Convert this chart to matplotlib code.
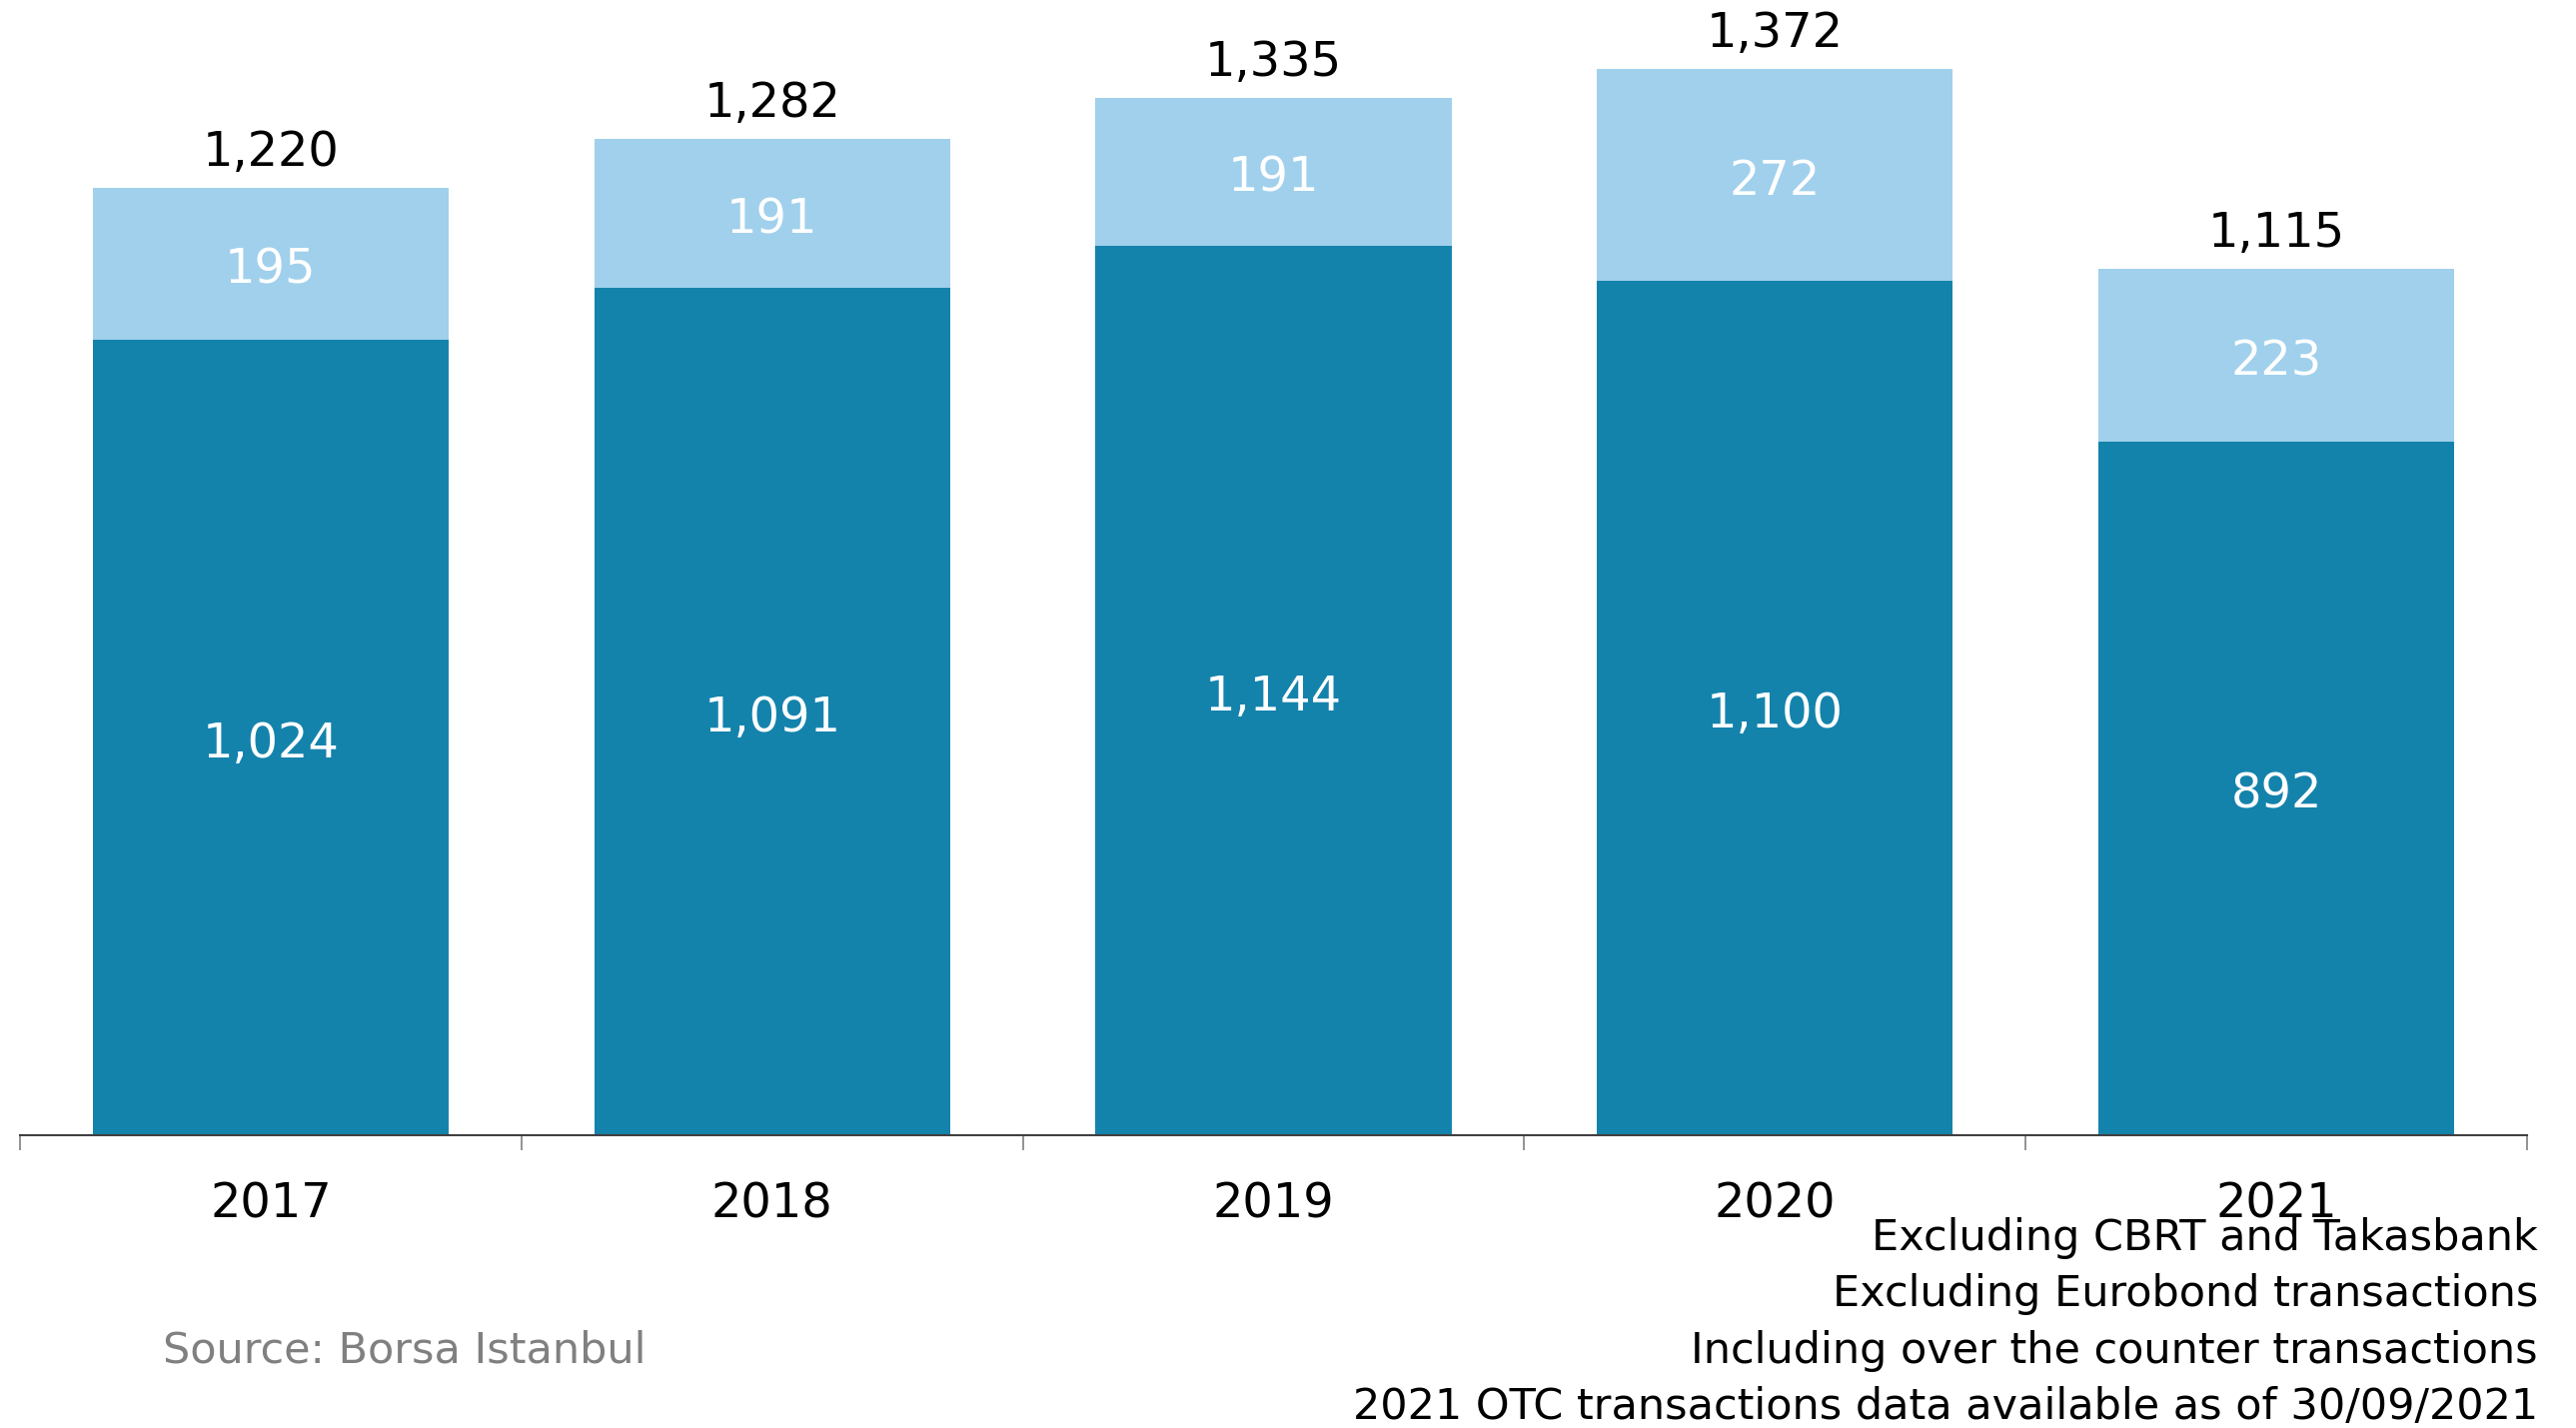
import numpy as np
import matplotlib.pyplot as plt

# Datos
years = ['2017', '2018', '2019', '2020', '2021']
base_vals = [1024, 1091, 1144, 1100, 892]
top_vals = [195, 191, 191, 272, 223]
totals = [1220, 1282, 1335, 1372, 1115]
notes = ['Excluding CBRT and Takasbank',
         'Excluding Eurobond transactions',
         'Including over the counter transactions',
         '2021 OTC transactions data available as of 30/09/2021']
source = 'Source: Borsa Istanbul'

dark = '#1483ac'
light = '#a0d0ec'

plt.rcParams['font.family'] = ['DejaVu Sans']

fig = plt.figure(figsize=(25.78, 14.29), dpi=100)
ax = fig.add_axes([20 / 2578, 1 - 1136 / 1429, 2509 / 2578, 1136 / 1429])

x = np.arange(len(years))
w = 0.71
ax.bar(x, base_vals, width=w, color=dark)
ax.bar(x, top_vals, width=w, bottom=base_vals, color=light)

# Etiquetas dentro de las barras
for xi, v in zip(x, base_vals):
    ax.annotate(f'{v:,}', (xi, v / 2), xytext=(0, -4.5), textcoords='offset points',
                ha='center', va='center', color='white', fontsize=34.5)
for xi, b, v in zip(x, base_vals, top_vals):
    ax.annotate(f'{v:,}', (xi, b + v / 2), xytext=(0, -4.5), textcoords='offset points',
                ha='center', va='center', color='white', fontsize=34.5)

# Totales encima
for xi, b, v, t in zip(x, base_vals, top_vals, totals):
    ax.annotate(f'{t:,}', (xi, b + v), xytext=(0, 25.5), textcoords='offset points',
                ha='center', va='center', fontsize=34.5, color='black')

ax.set_xlim(-0.5, len(years) - 0.5)
ax.set_ylim(0, 1461)

for s in ['top', 'right', 'left']:
    ax.spines[s].set_visible(False)
ax.spines['bottom'].set_color('#404040')
ax.spines['bottom'].set_linewidth(1.5)
ax.set_yticks([])

ax.set_xticks(x)
ax.set_xticklabels(years, fontsize=34.5)
ax.tick_params(axis='x', which='major', length=0, pad=33)
ax.set_xticks(np.arange(-0.5, len(years)), minor=True)
ax.tick_params(axis='x', which='minor', length=11, width=1.2, color='#808080')

# Notas al pie
for i, n in enumerate(notes):
    fig.text(2540 / 2578, 1 - (1239 + i * 56.3) / 1429, n, ha='right', va='center', fontsize=31)
fig.text(163 / 2578, 1 - 1352 / 1429, source, ha='left', va='center', fontsize=31, color='#808080')

fig.savefig('out.png', dpi=100)
